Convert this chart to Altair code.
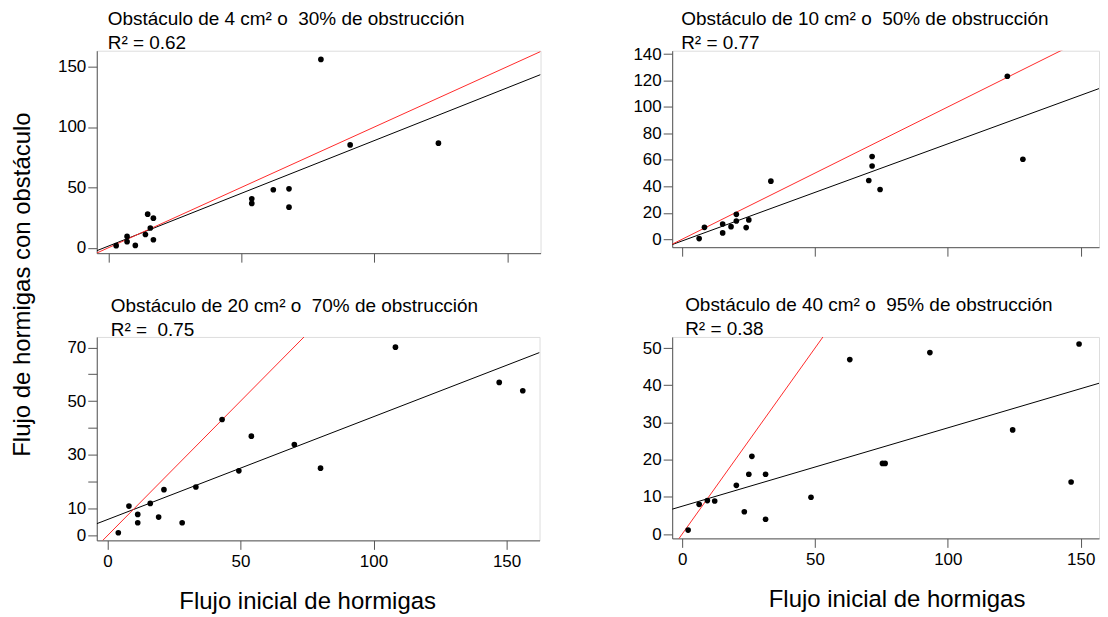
import altair as alt
import pandas as pd

FONT = "Liberation Sans"

# ---------------- data ----------------
x_ticks = [0, 50, 100, 150]

p1_x = [2.9, 7, 7, 10.1, 13.9, 14.75, 15.75, 16.9, 16.9, 53.9, 53.9, 62, 67.9, 67.9, 79.9, 90.9, 124.1]
p1_y = [1.7, 9.4, 5, 1.9, 11, 27.8, 16.3, 24.5, 6.6, 40.5, 36.7, 48, 48.8, 33.6, 156, 85.2, 86.6]

p2_x = [6.4, 8.4, 15.25, 15.25, 18.4, 20.4, 20.4, 24.1, 25.1, 33.4, 70.25, 71.5, 71.5, 74.5, 122.4, 128.25]
p2_y = [0.5, 9, 11.5, 4.8, 9.5, 18.8, 13.8, 8.8, 14.6, 43.9, 44.4, 62.5, 55.4, 37.6, 123.2, 60.5]

p3_x = [4.1, 8.1, 11.4, 11.4, 16.1, 19.25, 21.25, 28.1, 33.25, 43.1, 49.4, 54.1, 70.25, 80.1, 108.25, 147.25, 156.1]
p3_y = [1.1, 11, 7.9, 4.8, 12, 6.9, 17.1, 4.8, 18.1, 43.2, 24.1, 37, 33.9, 25.1, 70.1, 57, 53.9]

p4_x = [2.25, 6.4, 9.5, 12.25, 20.4, 23.4, 25.1, 26.25, 31.4, 31.4, 48.5, 63.1, 75.4, 76.4, 93.25, 124.4, 146.4, 149.4]
p4_y = [1.07, 8, 9, 8.9, 13.1, 6, 16.1, 20.9, 16.1, 4, 9.9, 46.9, 19, 19, 48.8, 28, 14, 51.1]

titles = [
    "Obstáculo de 4 cm² o \u00a030% de obstrucción",
    "Obstáculo de 10 cm² o \u00a050% de obstrucción",
    "Obstáculo de 20 cm² o \u00a070% de obstrucción",
    "Obstáculo de 40 cm² o \u00a095% de obstrucción",
]
r2_labels = ["R² = 0.62", "R² = 0.77", "R² = \u00a00.75", "R² = 0.38"]

fit_intercepts = [1.38, -1.29, 5.98, 7.49]
fit_slopes = [0.874, 0.734, 0.3825, 0.2107]

y_ticks = [
    [0, 50, 100, 150],
    [0, 20, 40, 60, 80, 100, 120, 140],
    [0, 10, 20, 30, 40, 50, 60, 70],
    [0, 10, 20, 30, 40, 50],
]
y_labels_shown = [
    [0, 50, 100, 150],
    [0, 20, 40, 60, 80, 100, 120, 140],
    [0, 10, 30, 50, 70],
    [0, 10, 20, 30, 40, 50],
]

x_title = "Flujo inicial de hormigas"
y_title = "Flujo de hormigas con obstáculo"

# ---------------- layout / style ----------------
x_domains = [[-4.4, 162.5], [-3.75, 156.9], [-4.0, 162.4], [-3.75, 156.9]]
y_domains = [[-4.5, 163.2], [-6.0, 142.5], [-1.75, 73.9], [-1.15, 53.0]]
widths = [445, 428, 444, 428]
heights = [203, 197, 204, 202]
title_dx = [11, 9, 14, 13]
title_offset = [-2, -8, -3, -2]

AX = dict(
    domainColor="#555555",
    tickColor="#555555",
    domainWidth=1,
    tickWidth=1,
    tickSize=9,
    grid=False,
    labelFont=FONT,
    labelFontSize=17,
    labelColor="#000000",
    titleFont=FONT,
    titleFontSize=24,
    titleColor="#000000",
    titleFontWeight="normal",
)


def panel(i, xs, ys):
    xd, yd = x_domains[i], y_domains[i]
    pts = pd.DataFrame({"x": xs, "y": ys})
    b, m = fit_intercepts[i], fit_slopes[i]
    fit = pd.DataFrame({"x": xd, "y": [b + m * xd[0], b + m * xd[1]]})
    ident = pd.DataFrame({"x": xd, "y": xd})

    bottom = i >= 2
    if bottom:
        xaxis = alt.Axis(
            values=x_ticks, labelPadding=4, title=x_title,
            titleX=[211, 225][i - 2], titleY=68, titleAlign="center",
            titleBaseline="alphabetic", **AX)
    else:
        xaxis = alt.Axis(values=x_ticks, labels=False, title=None, **AX)

    shown = y_labels_shown[i]
    yaxis_kw = dict(
        values=y_ticks[i], labelPadding=2,
        labelExpr="indexof(" + str(shown) + ", datum.value) >= 0 ? datum.label : ''",
        **AX)
    if i == 0:
        yaxis = alt.Axis(title=y_title, titleX=-74, titleY=234, titleAngle=270,
                         titleAlign="center", titleBaseline="middle", **yaxis_kw)
    else:
        yaxis = alt.Axis(title=None, **yaxis_kw)

    X = alt.X("x:Q", scale=alt.Scale(domain=xd, nice=False, zero=False), axis=xaxis)
    Y = alt.Y("y:Q", scale=alt.Scale(domain=yd, nice=False, zero=False), axis=yaxis)

    fit_line = alt.Chart(fit).mark_line(color="#000000", strokeWidth=1, clip=True).encode(x=X, y=Y)
    id_line = alt.Chart(ident).mark_line(color="#ff2a2a", strokeWidth=1, clip=True).encode(x=X, y=Y)
    dots = alt.Chart(pts).mark_circle(color="#000000", opacity=1, size=32).encode(x=X, y=Y)

    return alt.layer(fit_line, id_line, dots).properties(
        width=widths[i],
        height=heights[i],
        title=alt.TitleParams(
            text=titles[i],
            subtitle=r2_labels[i],
            anchor="start",
            frame="group",
            orient="top",
            dx=title_dx[i],
            offset=title_offset[i],
            font=FONT,
            subtitleFont=FONT,
            fontSize=19,
            subtitleFontSize=19,
            fontWeight="normal",
            color="#000000",
            subtitleColor="#000000",
            subtitlePadding=5,
        ),
    )


p1 = panel(0, p1_x, p1_y)
p2 = panel(1, p2_x, p2_y)
p3 = panel(2, p3_x, p3_y)
p4 = panel(3, p4_x, p4_y)

chart = alt.concat(
    p1, p2, p3, p4,
    columns=2,
    bounds="flush",
    align="all",
    spacing={"column": 132, "row": 83},
).properties(
    padding={"left": 2, "top": 0, "right": 0, "bottom": 0}
).configure_view(stroke=None).configure(background="white")

chart.save("out.html", embed_options={"renderer": "svg", "actions": False})
